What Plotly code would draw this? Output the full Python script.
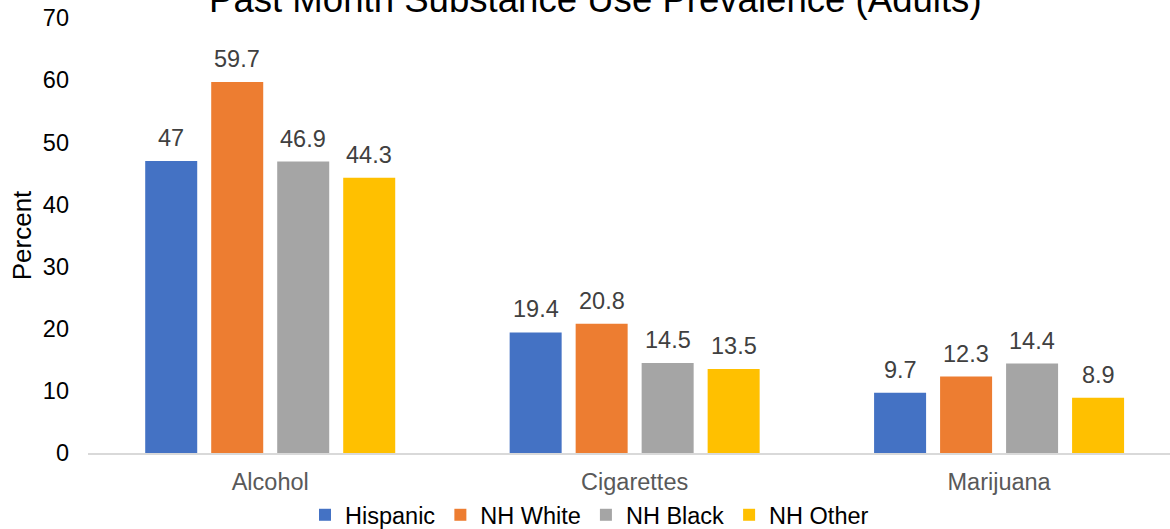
import plotly.graph_objects as go

# Past-month substance use prevalence among adults, by race/ethnicity (%)
substances = ["Alcohol", "Cigarettes", "Marijuana"]
groups = ["Hispanic", "NH White", "NH Black", "NH Other"]
hispanic = [47, 19.4, 9.7]
nh_white = [59.7, 20.8, 12.3]
nh_black = [46.9, 14.5, 14.4]
nh_other = [44.3, 13.5, 8.9]
y_ticks = [0, 10, 20, 30, 40, 50, 60, 70]

series = [hispanic, nh_white, nh_black, nh_other]
colors = ["#4472C4", "#ED7D31", "#A5A5A5", "#FFC000"]

FONT = "Arial, 'Liberation Sans', sans-serif"
W, H = 1170, 529
M_L, M_R, M_T, M_B = 88, 0, 18, 76
plot_w = W - M_L - M_R
plot_h = H - M_T - M_B

# category pitch in px, used to offset the value labels over each bar
x_lo, x_hi = -0.5, 2.469
pitch = plot_w / (x_hi - x_lo)
bargap = 0.2756
slot = pitch * (1 - bargap) / len(groups)

fig = go.Figure()
for name, vals, col in zip(groups, series, colors):
    fig.add_trace(go.Bar(
        name=name, x=substances, y=vals,
        marker=dict(color=col, line=dict(width=0)),
        hoverinfo="x+y+name",
    ))

annotations = []
for i, vals in enumerate(series):
    off = (i - (len(groups) - 1) / 2) * slot
    for cat, v in zip(substances, vals):
        annotations.append(dict(
            x=cat, y=v, xref="x", yref="y", text=f"{v:g}",
            showarrow=False, xanchor="center", yanchor="bottom",
            xshift=off, yshift=8,
            font=dict(family=FONT, size=23.5, color="#404040"),
        ))

annotations.append(dict(
    text="Past Month Substance Use Prevalence (Adults)",
    xref="paper", yref="paper", x=0.4686, y=1.0432,
    xanchor="center", yanchor="middle", showarrow=False,
    font=dict(family=FONT, size=36.6, color="#000000"),
))

fig.update_layout(
    width=W, height=H,
    margin=dict(l=M_L, r=M_R, t=M_T, b=M_B, pad=0, autoexpand=False),
    paper_bgcolor="white", plot_bgcolor="white",
    barmode="group", bargap=bargap, bargroupgap=0.212,
    font=dict(family=FONT, size=23.5, color="#000000"),
    showlegend=True,
    legend=dict(
        orientation="h", x=305 / W, xref="container", xanchor="left",
        y=1 - 515 / H, yref="container", yanchor="middle",
        font=dict(family=FONT, size=23.5, color="#000000"),
        bgcolor="rgba(0,0,0,0)", itemclick=False, itemdoubleclick=False,
    ),
    annotations=annotations,
    xaxis=dict(
        range=[x_lo, x_hi], showgrid=False, zeroline=False,
        showline=True, linecolor="#D9D9D9", linewidth=2,
        ticks="", ticklabelstandoff=7,
        tickfont=dict(family=FONT, size=23.5, color="#595959"),
        fixedrange=True,
    ),
    yaxis=dict(
        range=[0, 70], tickvals=y_ticks, showgrid=False, zeroline=False,
        showline=False, ticks="", ticklabelstandoff=18,
        tickfont=dict(family=FONT, size=23.5, color="#000000"),
        title=dict(text="Percent", standoff=3,
                   font=dict(family=FONT, size=26, color="#000000")),
        automargin=False, fixedrange=True,
    ),
)

fig.write_html("out.html")
